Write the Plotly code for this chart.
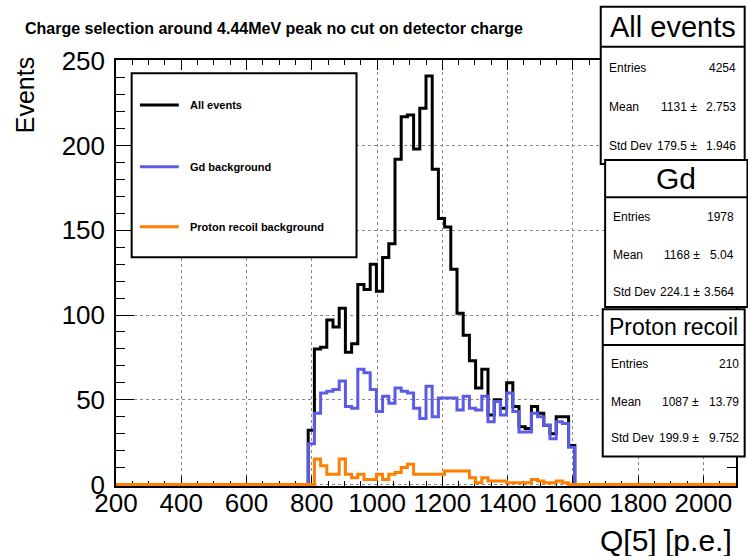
import plotly.graph_objects as go

# ---------------- data ----------------
X_MIN, X_MAX, N_BINS = 200, 2100, 100          # histogram binning (19 p.e. bins)
FIRST_BIN = 31                                 # index of first filled bin (788 p.e.)

all_events = [32, 80, 81, 97, 93, 104, 78, 83, 118, 115, 130, 114, 134, 142, 192,
              217, 218, 198, 222, 241, 186, 157, 152, 127, 101, 88, 73, 57, 68, 41,
              50, 45, 60, 46, 34, 33, 46, 42, 35, 30, 40, 40, 23]
gd_background = [24, 42, 54, 55, 56, 61, 46, 45, 68, 66, 56, 43, 52, 48, 57,
                 55, 54, 45, 39, 58, 40, 51, 51, 51, 44, 52, 45, 44, 52, 37,
                 49, 41, 54, 43, 31, 31, 42, 40, 35, 27, 37, 36, 22]
proton_recoil = [0, 15, 11, 6, 6, 15, 6, 4, 6, 3, 3, 6, 3, 6, 7,
                 10, 12, 6, 6, 6, 6, 6, 8, 8, 8, 8, 4, 1, 4, 2,
                 2, 2, 1, 1, 1, 1, 3, 2, 1, 1, 2, 1, 0]

series_names = ["All events", "Gd background", "Proton recoil background"]
stat_titles = ["All events", "Gd", "Proton recoil"]
stat_entries = ["4254", "1978", "210"]
stat_mean = ["1131", "1168", "1087"]
stat_mean_err = ["2.753", "5.04", "13.79"]
stat_std = ["179.5", "224.1", "199.9"]
stat_std_err = ["1.946", "3.564", "9.752"]

x_ticks = [200, 400, 600, 800, 1000, 1200, 1400, 1600, 1800, 2000]
y_ticks = [0, 50, 100, 150, 200, 250]

TITLE = "Charge selection around 4.44MeV peak no cut on detector charge"
X_TITLE = "Q[5] [p.e.]"
Y_TITLE = "Events"

# ---------------- styling / geometry ----------------
FONT = "Liberation Sans, Arial, Helvetica, sans-serif"
COLORS = ["#000000", "#5b5be6", "#ff7f00"]
W, H = 748, 556
L, R, T, B = 116, 738, 60, 486


def px(x):
    return (x - L) / (R - L)


def py(y):
    return (B - y) / (B - T)


bw = (X_MAX - X_MIN) / N_BINS
edges = [X_MIN + i * bw for i in range(N_BINS + 1)]


def full_counts(vals):
    c = [0] * N_BINS
    for i, v in enumerate(vals):
        c[FIRST_BIN + i] = v
    return c + [c[-1]]


fig = go.Figure()
for name, vals, col in zip(series_names, [all_events, gd_background, proton_recoil], COLORS):
    fig.add_trace(go.Scatter(x=edges, y=full_counts(vals), mode="lines",
                             line=dict(shape="hv", color=col, width=3),
                             name=name, hoverinfo="skip"))

axis_common = dict(showline=True, linecolor="black", linewidth=1.5, mirror="allticks",
                   ticks="inside", tickcolor="black", tickwidth=1,
                   showgrid=True, gridcolor="#8a8a8a", griddash="dot", gridwidth=1,
                   zeroline=False, layer="below traces",
                   tickfont=dict(family=FONT, size=26, color="black"))

fig.update_xaxes(range=[X_MIN, X_MAX], tickmode="array", tickvals=x_ticks,
                 ticktext=[str(v) for v in x_ticks], ticklen=10,
                 ticklabelstandoff=-7,
                 minor=dict(dtick=50, tick0=200, ticks="inside", ticklen=5,
                            tickcolor="black", showgrid=False),
                 **axis_common)
fig.update_yaxes(range=[-0.9, 250.5], tickmode="array", tickvals=y_ticks,
                 ticktext=[str(v) for v in y_ticks], ticklen=18,
                 ticklabelstandoff=4,
                 minor=dict(dtick=10, tick0=0, ticks="inside", ticklen=9,
                            tickcolor="black", showgrid=False),
                 **axis_common)

shapes = []
annotations = []

# legend box
shapes.append(dict(type="rect", xref="paper", yref="paper", layer="above",
                   x0=px(131.7), x1=px(357.3), y0=py(73.3), y1=py(257.3),
                   line=dict(color="black", width=2), fillcolor="white"))
leg_y = [105, 166.7, 226.7]
for name, col, yy in zip(series_names, COLORS, leg_y):
    shapes.append(dict(type="line", xref="paper", yref="paper", layer="above",
                       x0=px(140), x1=px(179), y0=py(yy), y1=py(yy),
                       line=dict(color=col, width=3)))
    annotations.append(dict(xref="paper", yref="paper", x=px(188), y=py(yy),
                            xanchor="left", yanchor="middle", showarrow=False,
                            text=name, font=dict(family=FONT, size=11, color="black",
                                                 weight="bold")))

# stat boxes
boxes = [  # x0, x1, y0, y1, ydiv, title size, row ys, label x, "±" right x, value right x
    (602.3, 746.7, 6.7, 164, 46.7, 29, [68.3, 107.3, 146], 609, 701, 740),
    (606.7, 749.5, 160, 307, 197.3, 30, [217.3, 255, 292.3], 613, 704, 738.5),
    (604.3, 746.7, 309.3, 456.5, 345, 23, [364, 401.7, 438.3], 611, 703, 743),
]
NB = "\u00a0"
SF = 12
for i, (x0, x1, y0, y1, yd, tsz, rows, lx, pmx, rx) in enumerate(boxes):
    shapes.append(dict(type="rect", xref="paper", yref="paper", layer="above",
                       x0=px(x0), x1=px(x1), y0=py(y0), y1=py(y1),
                       line=dict(color="black", width=2), fillcolor="white"))
    shapes.append(dict(type="line", xref="paper", yref="paper", layer="above",
                       x0=px(x0), x1=px(x1), y0=py(yd), y1=py(yd),
                       line=dict(color="black", width=2)))
    annotations.append(dict(xref="paper", yref="paper", x=px((x0 + min(x1, 748)) / 2),
                            y=py((y0 + yd) / 2), xanchor="center", yanchor="middle",
                            showarrow=False, text=stat_titles[i],
                            font=dict(family=FONT, size=tsz, color="black")))
    rows_txt = [("Entries", None, stat_entries[i]),
                ("Mean", stat_mean[i] + NB + "\u00b1", stat_mean_err[i]),
                ("Std Dev", stat_std[i] + NB + "\u00b1", stat_std_err[i])]
    for (lab, left, right), yy in zip(rows_txt, rows):
        annotations.append(dict(xref="paper", yref="paper", x=px(lx), y=py(yy),
                                xanchor="left", yanchor="middle", showarrow=False,
                                text=lab, font=dict(family=FONT, size=SF, color="black")))
        if left is not None:
            annotations.append(dict(xref="paper", yref="paper", x=px(pmx), y=py(yy),
                                    xanchor="right", yanchor="middle", showarrow=False,
                                    text=left, font=dict(family=FONT, size=SF, color="black")))
        annotations.append(dict(xref="paper", yref="paper", x=px(rx), y=py(yy),
                                xanchor="right", yanchor="middle", showarrow=False,
                                text=right, font=dict(family=FONT, size=SF, color="black")))

# titles
annotations.append(dict(xref="paper", yref="paper", x=px(23), y=py(28),
                        xanchor="left", yanchor="middle", showarrow=False, text=TITLE,
                        font=dict(family=FONT, size=16, color="black", weight="bold")))
annotations.append(dict(xref="paper", yref="paper", x=px(25), y=py(55),
                        xanchor="center", yanchor="top", textangle=-90, showarrow=False,
                        text=Y_TITLE, font=dict(family=FONT, size=25, color="black")))
annotations.append(dict(xref="paper", yref="paper", x=px(736), y=py(540),
                        xanchor="right", yanchor="middle", showarrow=False,
                        text=X_TITLE, font=dict(family=FONT, size=30, color="black")))

fig.update_layout(width=W, height=H, margin=dict(l=L, r=W - R, t=T, b=H - B, pad=0),
                  paper_bgcolor="white", plot_bgcolor="white", showlegend=False,
                  font=dict(family=FONT, color="black"),
                  shapes=shapes, annotations=annotations)

fig.write_html("out.html", config={"displayModeBar": False},
               post_script="document.body.style.margin='0px';")
